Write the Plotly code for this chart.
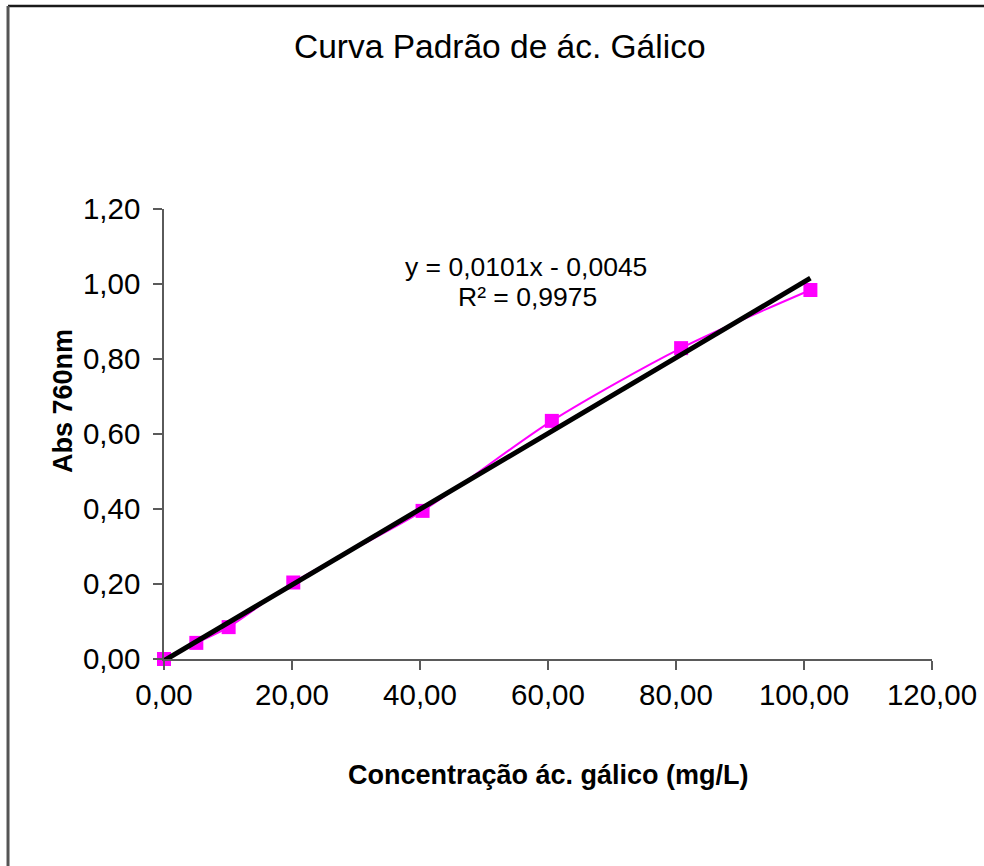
import plotly.graph_objects as go

# Gallic acid standard curve: concentration (mg/L) vs absorbance at 760 nm
concentracao = [0.0, 5.05, 10.1, 20.2, 40.4, 60.6, 80.8, 101.0]
absorbancia = [0.0, 0.043, 0.085, 0.204, 0.395, 0.635, 0.829, 0.984]

# Linear trendline parameters (shown in the equation label)
slope = 0.0101
intercept = -0.0045
r2 = 0.9975

x_ticks = [0, 20, 40, 60, 80, 100, 120]
y_ticks = [0.0, 0.2, 0.4, 0.6, 0.8, 1.0, 1.2]

trend_x = [0.0, max(concentracao)]
trend_y = [slope * v + intercept for v in trend_x]

FONT = "Liberation Sans, Arial, sans-serif"
AXIS_COLOR = "#5a5a5a"

fig = go.Figure()

fig.add_trace(go.Scatter(
    x=concentracao, y=absorbancia,
    mode="lines+markers",
    line=dict(color="#ff00ff", width=2, shape="spline", smoothing=0.8),
    marker=dict(symbol="square", size=14, color="#ff00ff"),
    cliponaxis=False,
    showlegend=False,
))

fig.add_trace(go.Scatter(
    x=trend_x, y=trend_y,
    mode="lines",
    line=dict(color="black", width=5),
    cliponaxis=False,
    showlegend=False,
))

def fmt(v, d):
    return f"{v:.{d}f}".replace(".", ",")

eq1 = f"y = {fmt(slope, 4)}x - {fmt(abs(intercept), 4)}"
eq2 = f"R² = {fmt(r2, 4)}"

annotations = [
    dict(text=eq1, x=56.6, y=1.045, xref="x", yref="y", showarrow=False,
         xanchor="center", yanchor="middle", font=dict(size=26.5, color="black", family=FONT)),
    dict(text=eq2, x=56.8, y=0.965, xref="x", yref="y", showarrow=False,
         xanchor="center", yanchor="middle", font=dict(size=26.5, color="black", family=FONT)),
    dict(text="Curva Padrão de ác. Gálico", x=0.4375, y=1.36, xref="paper", yref="paper",
         showarrow=False, xanchor="center", yanchor="middle",
         font=dict(size=33.5, color="black", family=FONT)),
    dict(text="<b>Concentração ác. gálico (mg/L)</b>", x=0.5013, y=-0.2578,
         xref="paper", yref="paper", showarrow=False, xanchor="center", yanchor="middle",
         font=dict(size=27, color="black", family=FONT)),
    dict(text="<b>Abs 760nm</b>", x=-0.1315, y=0.5733, textangle=-90,
         xref="paper", yref="paper", showarrow=False, xanchor="center", yanchor="middle",
         font=dict(size=27, color="black", family=FONT)),
]

# Outer chart frame (top and left edges visible)
shapes = [
    dict(type="line", xref="paper", yref="paper", x0=-0.2031, x1=1.2, y0=1.4511, y1=1.4511,
         line=dict(color="#1a1a1a", width=2.5)),
    dict(type="line", xref="paper", yref="paper", x0=-0.2031, x1=-0.2031, y0=1.4511, y1=-0.6,
         line=dict(color="#555555", width=3)),
]

fig.update_layout(
    width=984, height=866,
    margin=dict(l=164, r=52, t=209, b=207),
    paper_bgcolor="white", plot_bgcolor="white",
    separators=",.",
    font=dict(family=FONT, color="black"),
    annotations=annotations,
    shapes=shapes,
    showlegend=False,
)

fig.update_xaxes(
    range=[0, 120], tickvals=x_ticks, tickformat=".2f",
    showgrid=False, zeroline=False, automargin=False,
    showline=True, linecolor=AXIS_COLOR, linewidth=1.5,
    ticks="outside", ticklen=9, tickwidth=1.5, tickcolor=AXIS_COLOR,
    tickfont=dict(size=29.5, color="black", family=FONT),
)
fig.update_yaxes(
    range=[0, 1.2], tickvals=y_ticks, tickformat=".2f",
    showgrid=False, zeroline=False, automargin=False,
    showline=True, linecolor=AXIS_COLOR, linewidth=1.5,
    ticks="outside", ticklen=9, tickwidth=1.5, tickcolor=AXIS_COLOR,
    ticklabelstandoff=7,
    tickfont=dict(size=29.5, color="black", family=FONT),
)

fig.write_html("out.html")
